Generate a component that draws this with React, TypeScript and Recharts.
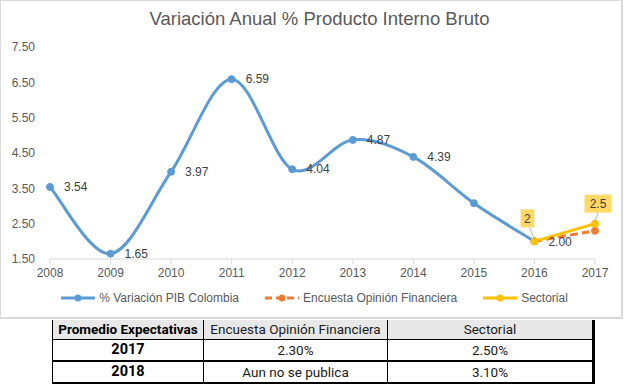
import React from "react";
import { LineChart, Line, XAxis, YAxis, LabelList } from "recharts";

const years = ["2008", "2009", "2010", "2011", "2012", "2013", "2014", "2015", "2016", "2017"];
const pib = [3.54, 1.65, 3.97, 6.59, 4.04, 4.87, 4.39, 3.08, 2.0, null];
const encuesta = [null, null, null, null, null, null, null, null, 2.0, 2.3];
const sectorial = [null, null, null, null, null, null, null, null, 2.0, 2.5];
const pibUnlabeled = ["2015"];
const yTicks = [1.5, 2.5, 3.5, 4.5, 5.5, 6.5, 7.5];

const tableHeader = ["Promedio Expectativas", "Encuesta Opinión Financiera", "Sectorial"];
const tableRows = [
  ["2017", "2.30%", "2.50%"],
  ["2018", "Aun no se publica", "3.10%"],
];

const data = years.map((year, i) => ({
  year,
  pib: pib[i],
  encuesta: encuesta[i],
  sectorial: sectorial[i],
}));

const BLUE = "#5B9BD5";
const ORANGE = "#ED7D31";
const YELLOW = "#FFC000";
const FONT = "'Liberation Sans', Arial, sans-serif";

// Excel-like smoothing (cardinal / catmull-rom spline)
const excelCurve = (ctx: any) => {
  let pts: [number, number][] = [];
  return {
    areaStart() {},
    areaEnd() {},
    lineStart() {
      pts = [];
    },
    point(x: number, y: number) {
      pts.push([x, y]);
    },
    lineEnd() {
      if (!pts.length) return;
      ctx.moveTo(pts[0][0], pts[0][1]);
      for (let i = 0; i < pts.length - 1; i++) {
        const p0 = pts[i - 1] || pts[i];
        const p1 = pts[i];
        const p2 = pts[i + 1];
        const p3 = pts[i + 2] || p2;
        ctx.bezierCurveTo(
          p1[0] + (p2[0] - p0[0]) / 6,
          p1[1] + (p2[1] - p0[1]) / 6,
          p2[0] - (p3[0] - p1[0]) / 6,
          p2[1] - (p3[1] - p1[1]) / 6,
          p2[0],
          p2[1]
        );
      }
    },
  };
};

const PibLabel = (props: any) => {
  const { x, y, value, index } = props;
  if (value == null || pibUnlabeled.includes(years[index])) return null;
  return (
    <text x={x + 14} y={y} dy="0.35em" fontSize={12} fill="#404040" fontFamily={FONT}>
      {Number(value).toFixed(2)}
    </text>
  );
};

const SectorLabel = (props: any) => {
  const { x, y, value, index } = props;
  if (value == null) return null;
  const last = index === years.length - 1;
  const text = String(value);
  const cx = last ? x + 3 : x - 7;
  const cy = last ? y - 20 : y - 23;
  const w = text.length * 6.7 + 7;
  const h = 18;
  return (
    <g>
      <line x1={cx + (last ? 0 : 2)} y1={cy + h / 2} x2={x} y2={y - 2} stroke="#a6a6a6" strokeWidth={0.8} />
      <rect x={cx - w / 2} y={cy - h / 2} width={w} height={h} fill="#FFD966" />
      <text x={cx} y={cy} dy="0.35em" textAnchor="middle" fontSize={12} fill="#404040" fontFamily={FONT}>
        {text}
      </text>
    </g>
  );
};

const legendItems = [
  { label: "% Variación PIB Colombia", color: BLUE, dashed: false },
  { label: "Encuesta Opinión Financiera", color: ORANGE, dashed: true },
  { label: "Sectorial", color: YELLOW, dashed: false },
];

const cellBase: React.CSSProperties = {
  borderRight: "1px solid #000",
  padding: 0,
  textAlign: "center",
  fontFamily: "Roboto, sans-serif",
  fontSize: 13.5,
  color: "#1a1a1a",
  whiteSpace: "nowrap",
};

export default function App() {
  return (
    <div style={{ position: "absolute", left: 0, top: 0, width: 624, height: 384, background: "#fff" }}>
      <div
        style={{
          position: "absolute",
          left: 0,
          top: 0,
          width: 623,
          height: 319,
          boxSizing: "border-box",
          border: "1px solid #d9d9d9",
          borderRightWidth: 2,
          borderBottomWidth: 2,
        }}
      />
      <div
        style={{
          position: "absolute",
          left: 16,
          top: 8,
          width: 607,
          textAlign: "center",
          fontFamily: FONT,
          fontSize: 18.5,
          color: "#595959",
        }}
      >
        Variación Anual % Producto Interno Bruto
      </div>
      <div style={{ position: "absolute", left: 0, top: 0 }}>
        <LineChart width={623} height={319} data={data} margin={{ top: 47, right: 28, left: 10, bottom: 30 }}>
          <XAxis
            dataKey="year"
            axisLine={{ stroke: "#d9d9d9" }}
            tickLine={{ stroke: "#d9d9d9" }}
            tickSize={5}
            tickMargin={4}
            height={30}
            interval={0}
            tick={{ fill: "#595959", fontSize: 12, fontFamily: FONT }}
          />
          <YAxis
            domain={[1.5, 7.5]}
            ticks={yTicks}
            width={40}
            axisLine={false}
            tickLine={false}
            tickMargin={9}
            tickFormatter={(v: number) => v.toFixed(2)}
            tick={{ fill: "#595959", fontSize: 12, fontFamily: FONT }}
          />
          <Line
            dataKey="pib"
            type={excelCurve as any}
            stroke={BLUE}
            strokeWidth={3}
            dot={{ r: 3.5, fill: BLUE, stroke: BLUE, strokeWidth: 1 }}
            isAnimationActive={false}
          >
            <LabelList dataKey="pib" content={PibLabel} />
          </Line>
          <Line
            dataKey="encuesta"
            type="linear"
            stroke={ORANGE}
            strokeWidth={3}
            strokeDasharray="8 4"
            dot={{ r: 3.5, fill: ORANGE, stroke: ORANGE, strokeWidth: 1, strokeDasharray: "0" }}
            isAnimationActive={false}
          />
          <Line
            dataKey="sectorial"
            type="linear"
            stroke={YELLOW}
            strokeWidth={3}
            dot={{ r: 3.5, fill: YELLOW, stroke: YELLOW, strokeWidth: 1 }}
            isAnimationActive={false}
          >
            <LabelList dataKey="sectorial" content={SectorLabel} />
          </Line>
        </LineChart>
      </div>
      <div
        style={{
          position: "absolute",
          left: 0,
          top: 290,
          width: 629,
          display: "flex",
          justifyContent: "center",
          gap: 26,
          fontFamily: FONT,
          fontSize: 12,
          color: "#595959",
        }}
      >
        {legendItems.map((it) => (
          <div key={it.label} style={{ display: "flex", alignItems: "center", height: 16 }}>
            <svg width={34} height={10} style={{ marginRight: 4 }}>
              <line
                x1={0}
                y1={5}
                x2={34}
                y2={5}
                stroke={it.color}
                strokeWidth={3}
                strokeDasharray={it.dashed ? "7 4" : undefined}
              />
              <circle cx={17} cy={5} r={3.5} fill={it.color} />
            </svg>
            <span>{it.label}</span>
          </div>
        ))}
      </div>
      <table
        style={{
          position: "absolute",
          left: 52,
          top: 320,
          borderCollapse: "collapse",
          tableLayout: "fixed",
          width: 541,
          borderLeft: "1px solid #000",
          borderRight: "3px solid #000",
          borderBottom: "3px solid #000",
        }}
      >
        <colgroup>
          <col style={{ width: 151 }} />
          <col style={{ width: 184 }} />
          <col style={{ width: 206 }} />
        </colgroup>
        <tbody>
          <tr style={{ height: 19, background: "#e8e8e8", borderBottom: "1px solid #000" }}>
            {tableHeader.map((h, i) => (
              <td key={h} style={{ ...cellBase, fontWeight: i === 0 ? 700 : 400, color: i === 0 ? "#000" : "#1a1a1a" }}>
                {h}
              </td>
            ))}
          </tr>
          {tableRows.map((row, r) => (
            <tr key={row[0]} style={{ height: 22, borderBottom: r === 0 ? "2px solid #000" : undefined }}>
              {row.map((c, i) => (
                <td
                  key={i}
                  style={{ ...cellBase, fontWeight: i === 0 ? 700 : 400, fontSize: i === 0 ? 14.5 : 13.5, color: i === 0 ? "#000" : "#1a1a1a" }}
                >
                  {c}
                </td>
              ))}
            </tr>
          ))}
        </tbody>
      </table>
    </div>
  );
}
